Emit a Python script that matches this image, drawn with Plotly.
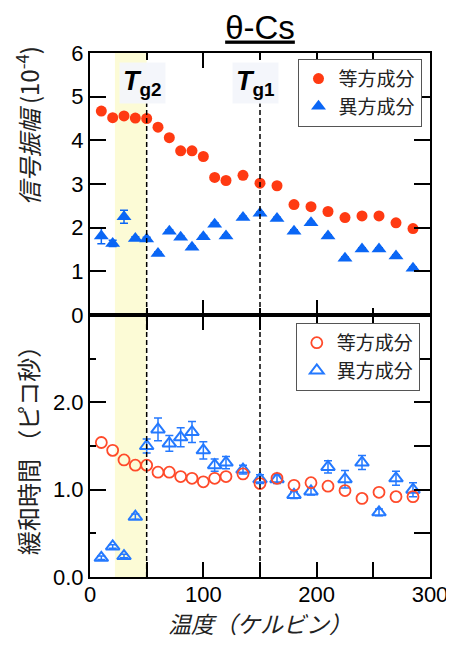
import plotly.graph_objects as go

# ---------------- data ----------------
temps = [10, 20, 30, 40, 50, 60, 70, 80, 90, 100, 110, 120, 135, 150, 165, 180, 195, 210, 225, 240, 255, 270, 285]

amp_iso = [4.67, 4.52, 4.56, 4.51, 4.50, 4.30, 4.06, 3.76, 3.76, 3.63, 3.15, 3.08, 3.20, 3.02, 2.96, 2.53, 2.48, 2.37, 2.23, 2.27, 2.27, 2.11, 1.98]
amp_aniso = [1.81, 1.64, 2.25, 1.75, 1.74, 1.41, 1.92, 1.78, 1.55, 1.79, 2.08, 1.81, 2.23, 2.33, 2.21, 1.92, 2.11, 1.81, 1.30, 1.51, 1.51, 1.35, 1.07]
amp_aniso_err = [0.18, 0.07, 0.15, 0.04, 0.04, 0.03, 0.03, 0.03, 0.03, 0.03, 0.03, 0.03, 0.03, 0.03, 0.03, 0.03, 0.03, 0.03, 0.03, 0.03, 0.03, 0.03, 0.03]

tau_iso = [1.54, 1.45, 1.34, 1.28, 1.28, 1.20, 1.20, 1.15, 1.13, 1.09, 1.13, 1.15, 1.18, 1.07, 1.13, 1.05, 1.08, 1.04, 0.99, 0.90, 0.97, 0.92, 0.92]
tau_aniso = [0.22, 0.35, 0.24, 0.69, 1.50, 1.69, 1.53, 1.60, 1.66, 1.45, 1.28, 1.31, 1.23, 1.12, 1.12, 0.94, 0.98, 1.26, 1.12, 1.31, 0.74, 1.13, 1.00]
tau_aniso_err = [0.02, 0.02, 0.02, 0.03, 0.08, 0.13, 0.09, 0.11, 0.12, 0.10, 0.07, 0.07, 0.05, 0.05, 0.05, 0.04, 0.04, 0.07, 0.10, 0.08, 0.04, 0.08, 0.08]

series_names = ["等方成分", "異方成分"]
tg_temps = [50, 150]
tg_labels = ["<b><i>T</i></b><sub><b>g2</b></sub>", "<b><i>T</i></b><sub><b>g1</b></sub>"]
shade_range = [22, 50]

x_ticks_major = [0, 100, 200, 300]
top_y_ticks = [0, 1, 2, 3, 4, 5, 6]
bot_y_major = [0, 1.0, 2.0]
bot_y_text = ["0.0", "1.0", "2.0"]
bot_y_minor = [0.5, 1.5, 2.5]
bot_y_right = [0, 0.5, 1.0, 1.5, 2.0, 2.5, 3.0]

RED = "#ff3a12"
BLUE = "#0a66f5"
RED_O = "#ff4a2a"
BLUE_O = "#2479ff"

NUM_FONT = "Liberation Sans, Arial, sans-serif"
JP_FONT = "Noto Sans CJK JP, sans-serif"

fig = go.Figure()

fig.add_trace(go.Scatter(
    x=temps, y=amp_iso, mode="markers", name=series_names[0],
    marker=dict(symbol="circle", size=11, color=RED),
    xaxis="x", yaxis="y", legend="legend"))
fig.add_trace(go.Scatter(
    x=temps, y=amp_aniso, mode="markers", name=series_names[1],
    marker=dict(symbol="triangle-up", size=13, color=BLUE),
    error_y=dict(type="data", array=amp_aniso_err, color=BLUE, thickness=1.5, width=4),
    xaxis="x", yaxis="y", legend="legend"))
fig.add_trace(go.Scatter(
    x=temps, y=tau_aniso, mode="markers", name=series_names[1],
    marker=dict(symbol="triangle-up-open", size=12, color=BLUE_O, line=dict(width=2, color=BLUE_O)),
    error_y=dict(type="data", array=tau_aniso_err, color=BLUE_O, thickness=1.5, width=4),
    xaxis="x2", yaxis="y2", legend="legend2"))
fig.add_trace(go.Scatter(
    x=temps, y=tau_iso, mode="markers", name=series_names[0],
    marker=dict(symbol="circle-open", size=11, color=RED_O, line=dict(width=1.8, color=RED_O)),
    xaxis="x2", yaxis="y2", legend="legend2"))
# helper (empty) trace for right-side tick axis of lower panel
fig.add_trace(go.Scatter(x=[None], y=[None], xaxis="x2", yaxis="y3",
                         showlegend=False, hoverinfo="skip"))

# shading and dashed lines
for yref in ["y", "y2"]:
    fig.add_shape(type="rect", xref="x", yref=f"{yref} domain",
                  x0=shade_range[0], x1=shade_range[1], y0=0, y1=1,
                  fillcolor="rgb(252,251,214)", line=dict(width=0), layer="below")
for xv in tg_temps:
    fig.add_shape(type="line", xref="x", yref="y", x0=xv, x1=xv, y0=0, y1=4.85,
                  line=dict(color="black", width=1.5, dash="5px,3px"))
    fig.add_shape(type="line", xref="x2", yref="y2 domain", x0=xv, x1=xv, y0=0, y1=1,
                  line=dict(color="black", width=1.5, dash="5px,3px"))

for xv, lab in zip(tg_temps, tg_labels):
    fig.add_annotation(x=xv - 4, y=5.31, xref="x", yref="y", text=lab, showarrow=False,
                       xanchor="center", yanchor="middle",
                       font=dict(family=NUM_FONT, size=27, color="black"),
                       bgcolor="rgba(243,246,251,0.95)", borderpad=3)

axis_common = dict(showline=True, linecolor="black", linewidth=2, ticks="inside",
                   tickcolor="black", tickwidth=2, showgrid=False, zeroline=False,
                   automargin=False, ticklabeloverflow="allow",
                   tickfont=dict(family=NUM_FONT, size=22, color="black"))

fig.update_layout(
    width=446, height=633,
    margin=dict(l=82, r=24, t=45, b=64, autoexpand=False),
    paper_bgcolor="white", plot_bgcolor="white",
    title=dict(text="<u>θ-Cs</u>", x=0.5, xref="paper", y=0.970, yanchor="middle",
               automargin=False,
               font=dict(family=NUM_FONT, size=33, color="black")),
    xaxis=dict(domain=[0, 1], anchor="y", range=[0, 300], tickvals=x_ticks_major,
               showticklabels=False, ticklen=15, mirror="allticks",
               minor=dict(dtick=50, ticks="inside", ticklen=7, tickwidth=2, tickcolor="black"),
               **axis_common),
    yaxis=dict(domain=[0.5, 1], anchor="x", range=[0, 6], tickvals=top_y_ticks,
               ticklen=16, mirror="allticks", **axis_common),
    xaxis2=dict(domain=[0, 1], anchor="y2", range=[0, 300], tickvals=x_ticks_major,
                ticklen=15, mirror="allticks", ticklabelstandoff=-3,
                minor=dict(dtick=50, ticks="inside", ticklen=7, tickwidth=2, tickcolor="black"),
                **axis_common),
    yaxis2=dict(domain=[0, 0.5], anchor="x2", range=[0, 3], tickvals=bot_y_major,
                ticktext=bot_y_text, ticklen=16, mirror=False,
                minor=dict(tickvals=bot_y_minor, ticks="inside", ticklen=6, tickwidth=2,
                           tickcolor="black"),
                **axis_common),
    yaxis3=dict(overlaying="y2", side="right", anchor="x2", range=[0, 3], tickvals=bot_y_right,
                showticklabels=False, showline=True, linecolor="black", linewidth=2,
                ticks="inside", ticklen=16, tickwidth=2, tickcolor="black",
                showgrid=False, zeroline=False, automargin=False),
    legend=dict(x=0.975, y=0.989, xanchor="right", yanchor="top", xref="paper", yref="paper",
                bgcolor="white", bordercolor="#555", borderwidth=1,
                font=dict(family=JP_FONT, size=19, color="#222"),
                tracegroupgap=0, itemwidth=30),
    legend2=dict(x=0.970, y=0.485, xanchor="right", yanchor="top", xref="paper", yref="paper",
                 bgcolor="white", bordercolor="#555", borderwidth=1,
                 font=dict(family=JP_FONT, size=19, color="#222"),
                 tracegroupgap=0, itemwidth=30, traceorder="reversed"),
    showlegend=True,
)

# axis titles as annotations
fig.add_annotation(xref="paper", yref="paper", x=-0.182, y=0.86, textangle=-90,
                   xanchor="center", yanchor="middle",
                   text="<i>信号振幅</i> (10<sup>-4</sup>)", showarrow=False,
                   font=dict(family=JP_FONT, size=24, color="#222"))
fig.add_annotation(xref="paper", yref="paper", x=-0.182, y=0.252, textangle=-90,
                   xanchor="center", yanchor="middle",
                   text="緩和時間 （ピコ秒）", showarrow=False,
                   font=dict(family=JP_FONT, size=24, color="#222"))
fig.add_annotation(xref="paper", yref="paper", x=0.5, y=-0.087,
                   xanchor="center", yanchor="middle",
                   text="<i>温度（ケルビン）</i>", showarrow=False,
                   font=dict(family=JP_FONT, size=23, color="#222"))

fig.write_html("out.html")
